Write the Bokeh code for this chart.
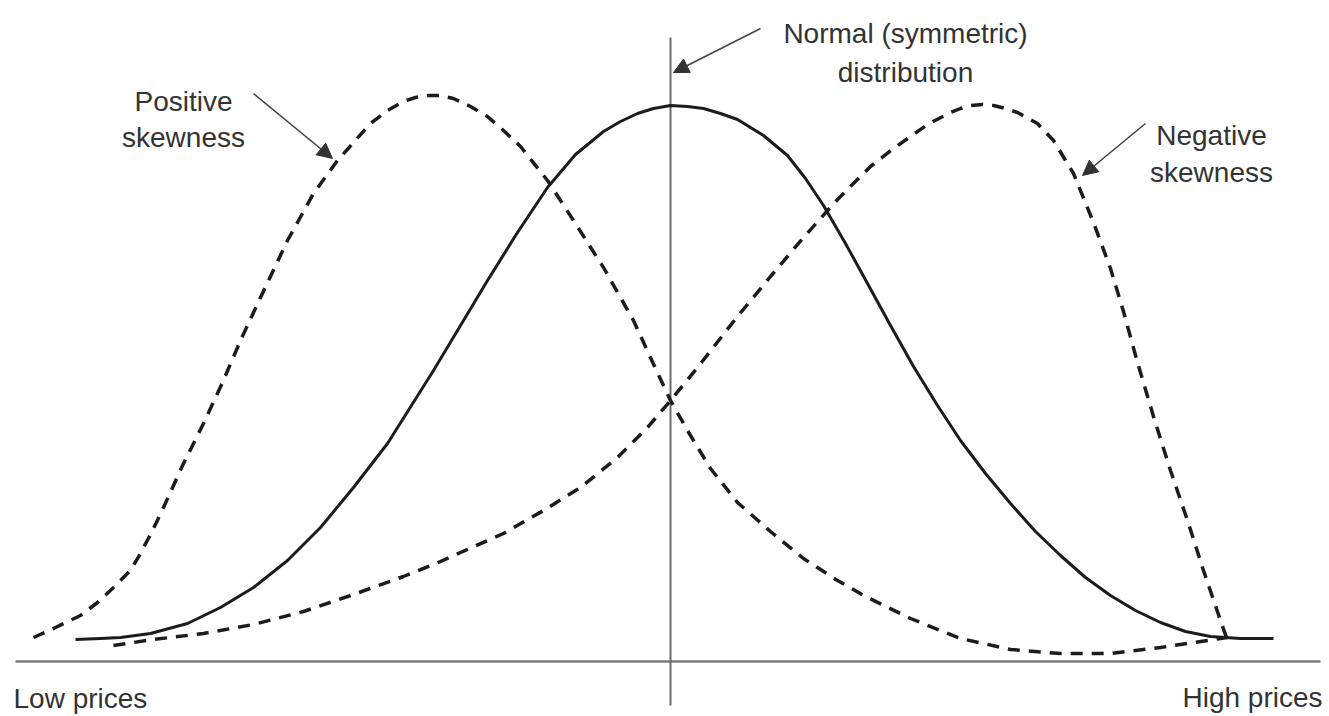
from bokeh.plotting import figure
from bokeh.models import Range1d, Arrow, NormalHead
from bokeh.core.properties import value
from bokeh.embed import file_html
from bokeh.resources import INLINE

# Price axis positions and curve heights (height above the price axis)
normal_x = [75, 100, 120, 150, 187, 220, 253, 287, 320, 353, 387, 433, 460, 487, 517,
            547, 575, 603, 620, 637, 653, 670, 687, 703, 720, 737, 763, 787, 805, 823,
            845, 867, 890, 913, 937, 960, 985, 1010, 1035, 1060, 1085, 1110, 1135, 1160,
            1185, 1210, 1240, 1273]
normal_h = [22, 23, 24, 28, 38, 54, 74, 101, 134, 174, 218, 291, 336, 381, 429,
            474, 507, 530, 540, 548, 553, 556, 555, 553, 548, 542, 526, 506, 483, 456,
            418, 378, 336, 295, 256, 221, 188, 158, 130, 106, 84, 66, 51, 39,
            30, 25, 23, 23]

pos_skew_x = [33, 55, 80, 97, 113, 130, 140, 152, 163, 183, 203, 222, 240, 260, 287,
              313, 337, 370, 387, 403, 415, 428, 440, 453, 470, 487, 503, 520, 547, 573,
              603, 633, 655, 670, 687, 710, 737, 770, 803, 837, 867, 910, 960, 1010,
              1060, 1110, 1160, 1193, 1227]
pos_skew_h = [24, 34, 46, 59, 74, 91, 108, 131, 154, 198, 238, 279, 321, 364, 421,
              468, 501, 538, 551, 560, 564, 566, 566, 563, 555, 545, 531, 515, 481, 441,
              394, 341, 293, 261, 231, 193, 159, 130, 103, 81, 64, 43, 23, 12,
              8, 8, 14, 19, 24]

neg_skew_x = [113, 153, 203, 253, 303, 353, 403, 440, 460, 503, 543, 580, 617, 647,
              670, 697, 737, 770, 803, 837, 870, 893, 927, 950, 960, 970, 982, 993,
              1005, 1017, 1037, 1053, 1073, 1093, 1110, 1123, 1137, 1153, 1170, 1187,
              1203, 1220, 1227]
neg_skew_h = [16, 22, 28, 37, 50, 67, 85, 100, 109, 128, 151, 174, 204, 234,
              261, 294, 345, 385, 424, 462, 495, 513, 537, 549, 553, 556, 557, 556,
              553, 549, 538, 521, 488, 439, 393, 350, 299, 245, 191, 141,
              91, 41, 21]

axis_x = [15, 1320]
mean_x = 670
axis_labels = ["Low prices", "High prices"]

ink = "#1c1c1c"
label_color = "#333333"
font = value("Liberation Sans")

p = figure(width=1329, height=716, x_range=Range1d(0, 1329), y_range=Range1d(-55, 661),
           output_backend="svg", toolbar_location=None, min_border=0)
p.axis.visible = False
p.grid.visible = False
p.outline_line_color = None
p.background_fill_color = "white"
p.border_fill_color = "white"

# price axis and the mean line
p.line(axis_x, [0, 0], line_color="#7d7d7d", line_width=2.5)
p.segment(x0=[mean_x], y0=[-44], x1=[mean_x], y1=[624], line_color="#6a6a6a", line_width=2)

# distributions
p.line(normal_x, normal_h, line_color=ink, line_width=3, line_join="round")
p.line(pos_skew_x, pos_skew_h, line_color=ink, line_width=3.5, line_dash="12 9")
p.line(neg_skew_x, neg_skew_h, line_color=ink, line_width=3.5, line_dash="12 9")

# callouts
def callout(x0, y0, x1, y1):
    p.add_layout(Arrow(end=NormalHead(size=15, fill_color="#333333", line_color="#333333"),
                       x_start=x0, y_start=y0, x_end=x1, y_end=y1,
                       line_color="#444444", line_width=1.6))

callout(253, 568, 332, 503)
callout(760, 633, 673, 589)
callout(1145, 538, 1082, 486)

p.text(x=[183, 183], y=[560, 524], text=["Positive", "skewness"], text_font=font,
       text_font_size="28px", text_align="center", text_baseline="alphabetic",
       text_color=label_color)
p.text(x=[905, 905], y=[628, 589], text=["Normal (symmetric)", "distribution"], text_font=font,
       text_font_size="28px", text_align="center", text_baseline="alphabetic",
       text_color=label_color)
p.text(x=[1211, 1211], y=[526, 489], text=["Negative", "skewness"], text_font=font,
       text_font_size="28px", text_align="center", text_baseline="alphabetic",
       text_color=label_color)

p.text(x=[13], y=[-37], text=[axis_labels[0]], text_font=font, text_font_size="28px",
       text_align="left", text_baseline="alphabetic", text_color=label_color)
p.text(x=[1322], y=[-36], text=[axis_labels[1]], text_font=font, text_font_size="28px",
       text_align="right", text_baseline="alphabetic", text_color=label_color)

open("out.html", "w").write(file_html(p, INLINE))
